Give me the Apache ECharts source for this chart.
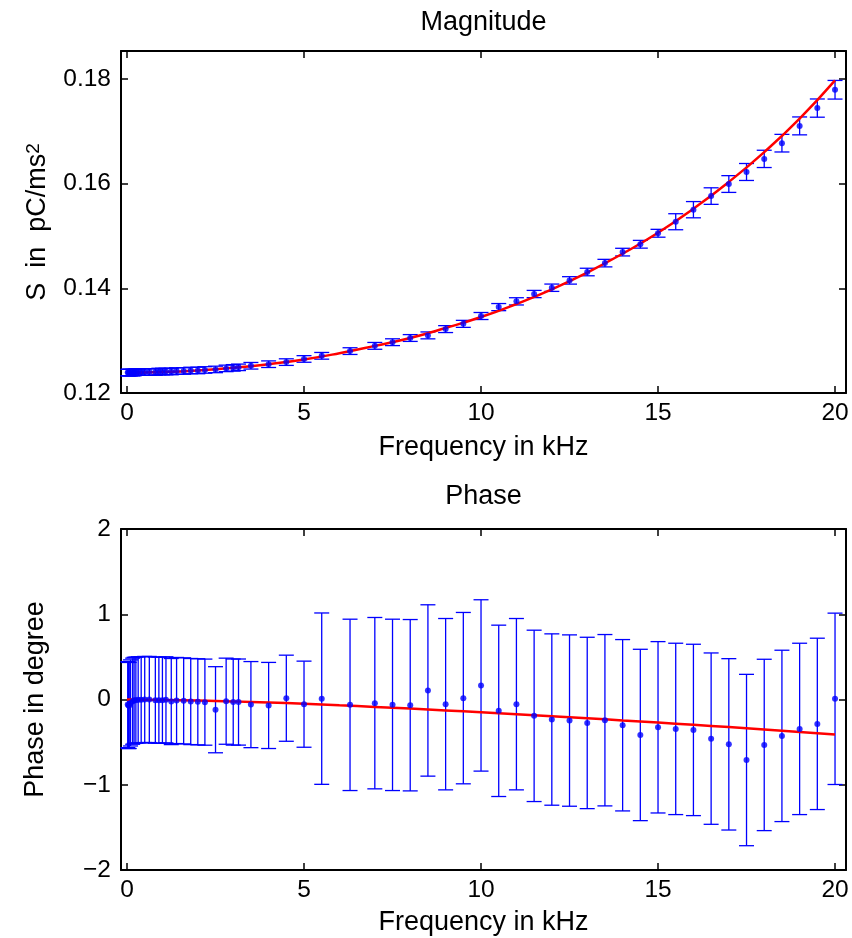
<!DOCTYPE html>
<html>
<head>
<meta charset="utf-8">
<script src="https://cdn.jsdelivr.net/npm/echarts@6/dist/echarts.min.js"></script>
<style>
html,body{margin:0;padding:0;background:#fff;}
#c{width:852px;height:938px;}
</style>
</head>
<body>
<div id="c"></div>
<script>
// ---- data ----
const freq = [0.02, 0.04, 0.063, 0.1, 0.16, 0.2, 0.25, 0.315, 0.4, 0.5, 0.63, 0.8, 0.9, 1.0, 1.1, 1.25, 1.4, 1.6, 1.8, 2.0, 2.2, 2.5, 2.8, 3.0, 3.15, 3.5, 4.0, 4.5, 5.0, 5.5, 6.3, 7.0, 7.5, 8.0, 8.5, 9.0, 9.5, 10.0, 10.5, 11.0, 11.5, 12.0, 12.5, 13.0, 13.5, 14.0, 14.5, 15.0, 15.5, 16.0, 16.5, 17.0, 17.5, 18.0, 18.5, 19.0, 19.5, 20.0];
const magnitude = [0.1239, 0.1239, 0.1239, 0.1239, 0.1239, 0.1239, 0.1240, 0.1240, 0.1240, 0.1240, 0.1240, 0.1240, 0.1241, 0.1241, 0.1241, 0.1241, 0.1242, 0.1242, 0.1243, 0.1243, 0.1244, 0.1245, 0.1247, 0.1248, 0.1249, 0.1252, 0.1255, 0.1259, 0.1265, 0.1271, 0.1280, 0.1290, 0.1297, 0.1305, 0.1310, 0.1322, 0.1332, 0.1347, 0.1364, 0.1375, 0.1389, 0.1401, 0.1415, 0.1431, 0.1448, 0.1469, 0.1484, 0.1505, 0.1527, 0.1550, 0.1576, 0.1599, 0.1622, 0.1647, 0.1677, 0.1710, 0.1744, 0.1779];
const magnitudeErr = [0.00062, 0.00062, 0.00062, 0.00062, 0.00062, 0.00062, 0.00062, 0.00062, 0.00062, 0.00062, 0.00062, 0.00062, 0.00062, 0.00062, 0.00062, 0.00062, 0.00062, 0.00062, 0.00062, 0.00062, 0.00062, 0.00062, 0.00062, 0.00062, 0.00062, 0.00063, 0.00063, 0.00063, 0.00063, 0.00064, 0.00064, 0.00065, 0.00065, 0.00065, 0.00066, 0.00066, 0.00067, 0.00067, 0.00068, 0.00069, 0.00069, 0.00070, 0.00071, 0.00072, 0.00072, 0.00073, 0.00074, 0.00075, 0.00153, 0.00155, 0.00158, 0.00160, 0.00162, 0.00165, 0.00168, 0.00171, 0.00174, 0.00178];
const phase = [-0.06, -0.07, -0.07, -0.04, -0.02, -0.01, -0.008, -0.004, -0.004, 0.0, 0.0, -0.008, -0.008, -0.008, -0.004, -0.024, -0.012, -0.016, -0.024, -0.027, -0.031, -0.12, -0.02, -0.03, -0.03, -0.06, -0.07, 0.015, -0.055, 0.01, -0.063, -0.043, -0.063, -0.067, 0.106, -0.055, 0.016, 0.165, -0.133, -0.055, -0.192, -0.235, -0.247, -0.275, -0.243, -0.302, -0.416, -0.326, -0.345, -0.357, -0.459, -0.526, -0.71, -0.533, -0.427, -0.345, -0.286, 0.008];
const phaseErr = [0.505, 0.505, 0.505, 0.505, 0.505, 0.505, 0.505, 0.505, 0.505, 0.505, 0.505, 0.505, 0.505, 0.505, 0.505, 0.505, 0.505, 0.505, 0.505, 0.505, 0.505, 0.505, 0.505, 0.505, 0.505, 0.505, 0.505, 0.505, 0.505, 1.005, 1.005, 1.005, 1.005, 1.005, 1.005, 1.005, 1.005, 1.005, 1.005, 1.005, 1.005, 1.005, 1.005, 1.005, 1.005, 1.005, 1.005, 1.005, 1.005, 1.005, 1.005, 1.005, 1.005, 1.005, 1.005, 1.005, 1.005, 1.005];
const fitFreq = [0, 1, 2, 3, 4, 5, 6, 7, 8, 9, 10, 11, 12, 13, 14, 15, 16, 17, 18, 19, 20];
const magnitudeFit = [0.1239, 0.1240, 0.1243, 0.1248, 0.1255, 0.1264, 0.1276, 0.1290, 0.1305, 0.1324, 0.1345, 0.1370, 0.1398, 0.1430, 0.1466, 0.1506, 0.1552, 0.1603, 0.1660, 0.1724, 0.1797];
const phaseFit = [0.0, -0.005, -0.012, -0.022, -0.035, -0.05, -0.068, -0.087, -0.107, -0.128, -0.15, -0.173, -0.196, -0.22, -0.245, -0.27, -0.297, -0.324, -0.352, -0.381, -0.41];
const freqTicks = [0, 5, 10, 15, 20];
const magTicks = [0.12, 0.14, 0.16, 0.18];
const phaseTicks = [-2, -1, 0, 1, 2];

// ---- chart ----
const FONT = 'Liberation Sans, Arial, Helvetica, sans-serif';
const FS = 24.5;   // tick labels
const LFS = 27;    // axis names and titles
const chart = echarts.init(document.getElementById('c'), null, {renderer: 'canvas'});

function errRender(params, api) {
  const x = api.value(0), lo = api.value(1), hi = api.value(2);
  const pLo = api.coord([x, lo]);
  const pHi = api.coord([x, hi]);
  const w = 7.5;
  const style = {stroke: '#0000ff', lineWidth: 1.3, fill: null};
  return {
    type: 'group',
    children: [
      {type: 'line', shape: {x1: pLo[0], y1: pLo[1], x2: pHi[0], y2: pHi[1]}, style: style},
      {type: 'line', shape: {x1: pHi[0] - w, y1: pHi[1], x2: pHi[0] + w, y2: pHi[1]}, style: style},
      {type: 'line', shape: {x1: pLo[0] - w, y1: pLo[1], x2: pLo[0] + w, y2: pLo[1]}, style: style}
    ]
  };
}

const magErrData = freq.map((f, i) => [f, magnitude[i] - magnitudeErr[i], magnitude[i] + magnitudeErr[i]]);
const phaseErrData = freq.map((f, i) => [f, phase[i] - phaseErr[i], phase[i] + phaseErr[i]]);
const magPts = freq.map((f, i) => [f, magnitude[i]]);
const phasePts = freq.map((f, i) => [f, phase[i]]);
const magFitData = fitFreq.map((f, i) => [f, magnitudeFit[i]]);
const phaseFitData = fitFreq.map((f, i) => [f, phaseFit[i]]);

const XMIN = -0.17, XMAX = 20.31;
const lineStyle = {color: '#000', width: 2};
const tickStyle = {color: '#000', width: 1.5};

function xAx(grid, pos, show, gap) {
  return {
    gridIndex: grid, type: 'value', position: pos, min: XMIN, max: XMAX,
    axisLine: {show: true, onZero: false, lineStyle: lineStyle},
    axisTick: {show: true, inside: true, length: 7, customValues: freqTicks, lineStyle: tickStyle},
    axisLabel: {show: show, customValues: freqTicks, color: '#000', fontSize: FS, fontFamily: FONT, margin: 8,
      formatter: v => String(v)},
    splitLine: {show: false},
    name: show ? 'Frequency in kHz' : '', nameLocation: 'middle', nameGap: gap || 38,
    nameTextStyle: {color: '#000', fontSize: LFS, fontFamily: FONT}
  };
}
function yAx(grid, pos, show, min, max, ticks, fmt, name, nameOpts) {
  return Object.assign({
    gridIndex: grid, type: 'value', position: pos, min: min, max: max,
    axisLine: {show: true, onZero: false, lineStyle: lineStyle},
    axisTick: {show: true, inside: true, length: 7, customValues: ticks, lineStyle: tickStyle},
    axisLabel: {show: show, customValues: ticks, color: '#000', fontSize: FS, fontFamily: FONT, margin: 10, formatter: fmt},
    splitLine: {show: false},
    name: show ? name : '', nameLocation: 'middle'
  }, nameOpts || {});
}

const option = {
  backgroundColor: '#fff',
  animation: false,
  textStyle: {fontFamily: FONT},
  grid: [
    {left: 121, top: 51, width: 725, height: 342},
    {left: 121, top: 529, width: 725, height: 341}
  ],
  graphic: [
    {type: 'text', x: 483.5, y: 23, style: {text: 'Magnitude', fontSize: LFS, fontFamily: FONT, fill: '#000', align: 'center', verticalAlign: 'middle'}},
    {type: 'text', x: 483.5, y: 497, style: {text: 'Phase', fontSize: LFS, fontFamily: FONT, fill: '#000', align: 'center', verticalAlign: 'middle'}}
  ],
  xAxis: [xAx(0, 'bottom', true, 41), xAx(0, 'top', false), xAx(1, 'bottom', true, 39), xAx(1, 'top', false)],
  yAxis: [
    yAx(0, 'left', true, 0.12, 0.1853, magTicks, v => v.toFixed(2), '{a|S  in  pC/ms}{s|2}', {
      nameGap: 70,
      nameTextStyle: {color: '#000', fontFamily: FONT, rich: {
        a: {fontSize: LFS, fontFamily: FONT, color: '#000'},
        s: {fontSize: 19, fontFamily: FONT, color: '#000', verticalAlign: 'top'}
      }}
    }),
    yAx(0, 'right', false, 0.12, 0.1853, magTicks, v => v.toFixed(2), ''),
    yAx(1, 'left', true, -2, 2, phaseTicks, v => (v < 0 ? '\u2212' + Math.abs(v) : String(v)), 'Phase in degree', {
      nameGap: 72,
      nameTextStyle: {color: '#000', fontSize: LFS, fontFamily: FONT}
    }),
    yAx(1, 'right', false, -2, 2, phaseTicks, v => String(v), '')
  ],
  series: [
    {type: 'custom', xAxisIndex: 0, yAxisIndex: 0, data: magErrData, renderItem: errRender, encode: {x: 0, y: [1, 2]}, z: 2, silent: true},
    {type: 'line', xAxisIndex: 0, yAxisIndex: 0, data: magFitData, smooth: true, showSymbol: false, lineStyle: {color: '#ff0000', width: 2.5}, z: 3, silent: true},
    {type: 'scatter', xAxisIndex: 0, yAxisIndex: 0, data: magPts, symbol: 'circle', symbolSize: 6, itemStyle: {color: '#0000ff'}, z: 4, silent: true},
    {type: 'custom', xAxisIndex: 2, yAxisIndex: 2, data: phaseErrData, renderItem: errRender, encode: {x: 0, y: [1, 2]}, z: 2, silent: true},
    {type: 'line', xAxisIndex: 2, yAxisIndex: 2, data: phaseFitData, smooth: true, showSymbol: false, lineStyle: {color: '#ff0000', width: 2.5}, z: 3, silent: true},
    {type: 'scatter', xAxisIndex: 2, yAxisIndex: 2, data: phasePts, symbol: 'circle', symbolSize: 6, itemStyle: {color: '#0000ff'}, z: 4, silent: true}
  ]
};
chart.setOption(option);
</script>
</body>
</html>
